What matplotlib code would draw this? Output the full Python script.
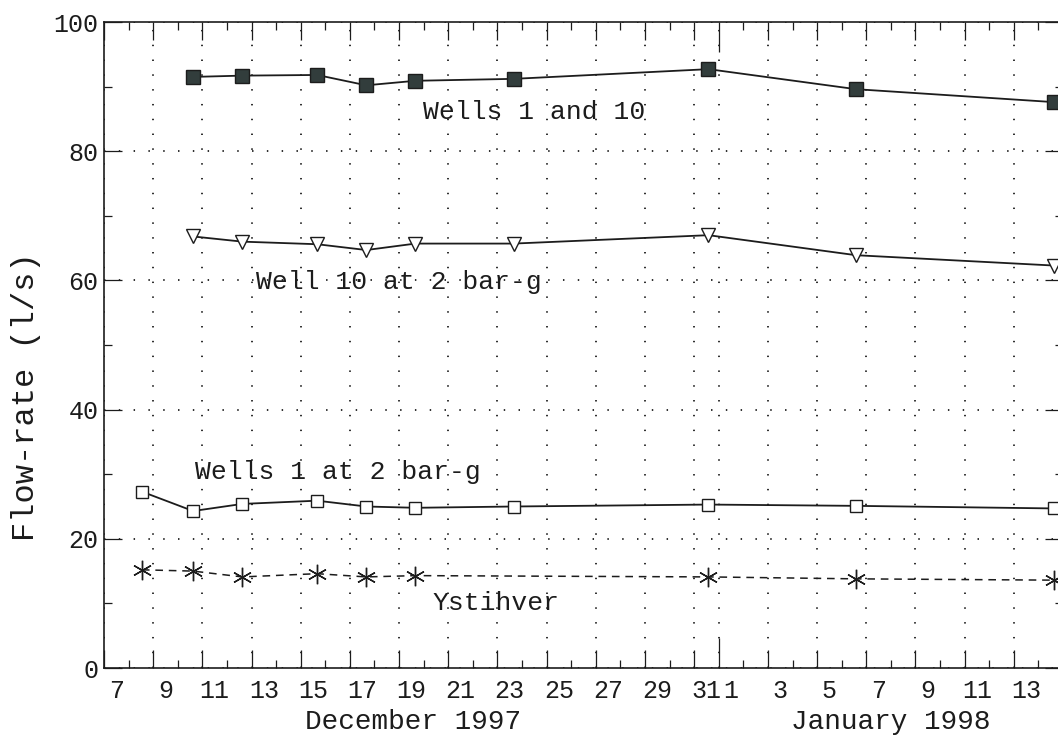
import datetime as dt
import matplotlib
matplotlib.use('agg')
import matplotlib.pyplot as plt
import matplotlib.dates as mdates
import matplotlib.transforms as mtransforms

plt.rcParams['font.family'] = 'Liberation Mono'

# measurement times (flow tests, Dec 1997 - Jan 1998)
flow_dates = [
    dt.datetime(1997, 12, 8, 13),
    dt.datetime(1997, 12, 10, 15),
    dt.datetime(1997, 12, 12, 15),
    dt.datetime(1997, 12, 15, 16),
    dt.datetime(1997, 12, 17, 16),
    dt.datetime(1997, 12, 19, 16),
    dt.datetime(1997, 12, 23, 16),
    dt.datetime(1997, 12, 31, 14),
    dt.datetime(1998, 1, 6, 14),
    dt.datetime(1998, 1, 14, 15),
]

# flow-rates in l/s
wells_1_and_10 = [91.5, 91.7, 91.8, 90.2, 90.9, 91.2, 92.7, 89.6, 87.6]
well_10_2bar = [66.8, 66.0, 65.6, 64.7, 65.7, 65.7, 67.0, 63.9, 62.3]
well_1_2bar = [27.3, 24.3, 25.4, 25.9, 25.0, 24.8, 25.0, 25.3, 25.1, 24.7]
ystihver = [15.2, 15.0, 14.1, 14.6, 14.1, 14.3, 14.1, 13.8, 13.6]

ystihver_dates = flow_dates[:6] + flow_dates[7:]

ink = '#1c1c1c'
x_start = dt.datetime(1997, 12, 7)
x_end = dt.datetime(1998, 1, 15)
new_year = dt.datetime(1998, 1, 1)

fig = plt.figure(figsize=(10.58, 7.38), dpi=100)
ax = fig.add_axes([104 / 1058, 70 / 738, 959 / 1058, 646 / 738])

ax.plot(flow_dates[1:], wells_1_and_10, color=ink, lw=1.3, marker='s',
        ms=9.6, mfc='#323d3c', mec=ink, mew=1.0)
ax.plot(flow_dates[1:], well_10_2bar, color=ink, lw=1.3, marker='v',
        ms=10.5, mfc='white', mec=ink, mew=1.0)
ax.plot(flow_dates, well_1_2bar, color=ink, lw=1.3, marker='s',
        ms=8.8, mfc='white', mec=ink, mew=1.0)
ax.plot(ystihver_dates, ystihver, color=ink, lw=1.1, ls=(0, (5, 3.8)),
        marker=(6, 2, 0), ms=14, mec=ink, mew=1.0)

ax.text(dt.datetime(1997, 12, 19, 23), 86.0, 'Wells 1 and 10',
        fontsize=19, color=ink, va='center', ha='left')
ax.text(dt.datetime(1997, 12, 13, 4), 59.8, 'Well 10 at 2 bar-g',
        fontsize=19, color=ink, va='center', ha='left')
ax.text(dt.datetime(1997, 12, 10, 17), 30.4, 'Wells 1 at 2 bar-g',
        fontsize=19, color=ink, va='center', ha='left')
ax.text(dt.datetime(1997, 12, 20, 9), 10.1, 'Ystihver',
        fontsize=19, color=ink, va='center', ha='left')

ax.set_xlim(x_start, x_end)
ax.set_ylim(0, 100)


def day_label(v, pos):
    d = mdates.num2date(v)
    # the last tick sits on the right border; leave it unlabelled
    if d.replace(tzinfo=None) >= x_end:
        return ''
    return str(d.day)


ax.xaxis.set_major_locator(mdates.DayLocator(bymonthday=range(1, 32, 2)))
ax.xaxis.set_minor_locator(mdates.DayLocator(bymonthday=range(2, 31, 2)))
ax.xaxis.set_major_formatter(plt.FuncFormatter(day_label))
ax.set_yticks([0, 20, 40, 60, 80, 100])
ax.set_yticks([10, 30, 50, 70, 90], minor=True)

ax.tick_params(which='both', direction='in', top=True, right=True,
               color=ink, width=0.9, labelcolor=ink)
ax.tick_params(which='major', length=13)
ax.tick_params(which='minor', length=5.8)
ax.tick_params(axis='x', which='major', labelsize=18, pad=8)
ax.tick_params(axis='y', which='major', labelsize=18, pad=4)

for sp in ax.spines.values():
    sp.set_linewidth(1.2)
    sp.set_color(ink)

ax.grid(True, which='major', color=ink, lw=1.3, ls=(0, (0.8, 7.4)))

# day labels sit in the middle of each day, ticks at midnight
day_in = ax.get_position().width * fig.get_figwidth() / (x_end - x_start).days
shift = mtransforms.ScaledTranslation(day_in / 2, 0, fig.dpi_scale_trans)
for lab in ax.get_xticklabels():
    lab.set_transform(lab.get_transform() + shift)

# longer tick where the month changes
ny = mdates.date2num(new_year)
for loc, tick in zip(ax.xaxis.get_majorticklocs(), ax.xaxis.get_major_ticks()):
    if abs(loc - ny) < 1e-6:
        tick.tick1line.set_markersize(21.6)
        tick.tick2line.set_markersize(21.6)

ax.set_ylabel('Flow-rate (l/s)', fontsize=23, color=ink)
ax.yaxis.set_label_coords(-0.066, 0.42)

ax.text(dt.datetime(1997, 12, 19, 14), -0.084, 'December 1997', fontsize=20,
        color=ink, ha='center', va='center',
        transform=ax.get_xaxis_transform())
ax.text(dt.datetime(1998, 1, 8), -0.084, 'January 1998', fontsize=20,
        color=ink, ha='center', va='center',
        transform=ax.get_xaxis_transform())

fig.savefig('out.png', dpi=100)
